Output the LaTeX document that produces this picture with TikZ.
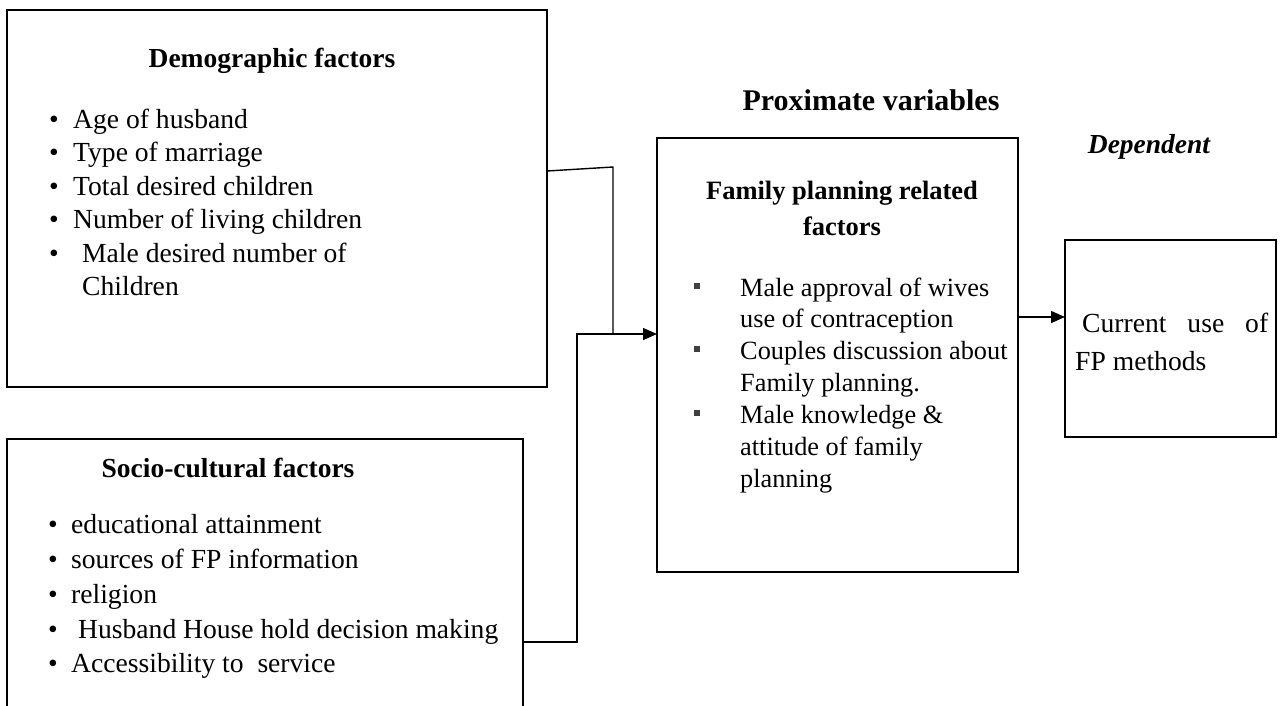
\documentclass[tikz,border=0pt]{standalone}
\usepackage{fontspec}
\setmainfont{Liberation Serif}
\usetikzlibrary{arrows.meta}
\begin{document}
\begin{tikzpicture}[x=1pt,y=-1pt,
  box/.style={draw, line width=1.4pt, anchor=north west, inner sep=0pt, outer sep=0pt},
  conn/.style={line width=1.4pt},
  arr/.style={conn, -{Triangle[length=14pt,width=12pt]}},
  txt/.style={anchor=base west, inner sep=0pt, font=\fontsize{27.6}{30}\selectfont},
  ftxt/.style={anchor=base west, inner sep=0pt, font=\fontsize{26.3}{30}\selectfont},
  ttl/.style={anchor=base, inner sep=0pt, font=\fontsize{27.5}{30}\selectfont\bfseries},
  bul/.style={anchor=base, inner sep=0pt, font=\fontsize{27.6}{30}\selectfont},
  sq/.style={fill=black!75, minimum size=6.5pt, inner sep=0pt}]
\path[use as bounding box, clip] (0,0) rectangle (1282,705);

% boxes
\node[box, minimum width=540pt, minimum height=377pt] (demo) at (7,10) {};
\node[box, minimum width=516pt, minimum height=300pt] (soc) at (7,439) {};
\node[box, minimum width=361pt, minimum height=434pt] (fam) at (657,138) {};
\node[box, minimum width=211pt, minimum height=197pt] (cur) at (1065,240) {};

% demographic text
\node[ttl] (demoT) at (272,67) {Demographic factors};
\node[bul] (db1) at (54,128) {•}; \node[txt] (d1) at (73,128) {Age of husband};
\node[bul] (db2) at (54,161) {•}; \node[txt] (d2) at (73,161) {Type of marriage};
\node[bul] (db3) at (54,195) {•}; \node[txt] (d3) at (73,195) {Total desired children};
\node[bul] (db4) at (54,228) {•}; \node[txt] (d4) at (73,228) {Number of living children};
\node[bul] (db5) at (54,262) {•}; \node[txt] (d5) at (82,262) {Male desired number of};
\node[txt] (d6) at (82,295) {Children};

% socio-cultural text
\node[ttl] (socT) at (228,477) {Socio-cultural factors};
\node[bul] (sb1) at (53,533) {•}; \node[txt] (s1) at (71,533) {educational attainment};
\node[bul] (sb2) at (53,568) {•}; \node[txt] (s2) at (71,568) {sources of FP information};
\node[bul] (sb3) at (53,603) {•}; \node[txt] (s3) at (71,603) {religion};
\node[bul] (sb4) at (53,638) {•}; \node[txt] (s4) at (78,638) {Husband House hold decision making};
\node[bul] (sb5) at (53,672) {•}; \node[txt] (s5) at (71,672) {Accessibility to\ \ service};

% proximate
\node[ttl, font=\fontsize{30}{33}\selectfont\bfseries] (prox) at (871,110) {Proximate variables};
\node[ttl, font=\fontsize{26.5}{30}\selectfont\bfseries] (famT1) at (842,199) {Family planning related};
\node[ttl, font=\fontsize{26.5}{30}\selectfont\bfseries] (famT2) at (842,235) {factors};
\node[sq] (fb1) at (697,286) {}; \node[ftxt] (f1) at (740,296) {Male approval of wives};
\node[ftxt] (f2) at (740,327) {use of contraception};
\node[sq] (fb2) at (697,349) {}; \node[ftxt] (f3) at (740,359) {Couples discussion about};
\node[ftxt] (f4) at (740,391) {Family planning.};
\node[sq] (fb3) at (697,413) {}; \node[ftxt] (f5) at (740,423) {Male knowledge \&};
\node[ftxt] (f6) at (740,455) {attitude of family};
\node[ftxt] (f7) at (740,487) {planning};

% dependent
\node[ttl, font=\fontsize{27.5}{30}\selectfont\bfseries\itshape] (dep) at (1149,153) {Dependent};
\node[txt] (c1) at (1082,332) {\hbox to 186pt{Current\hfill use\hfill of}};
\node[txt] (c2) at (1075,370) {FP methods};

% connectors
\coordinate (dout) at (547,171);
\coordinate (j1) at (613,167);
\coordinate (j2) at (613,334);
\coordinate (sout) at (523,642);
\coordinate (k1) at (577,642);
\coordinate (k2) at (577,334);
\coordinate (fin) at (657,334);
\coordinate (fout) at (1018,317);
\coordinate (cin) at (1065,317);
\draw[conn] (dout) -- (j1) -- (j2);
\draw[arr] (sout) -- (k1) -- (k2) -- (fin);
\draw[arr] (fout) -- (cin);
\end{tikzpicture}
\end{document}
